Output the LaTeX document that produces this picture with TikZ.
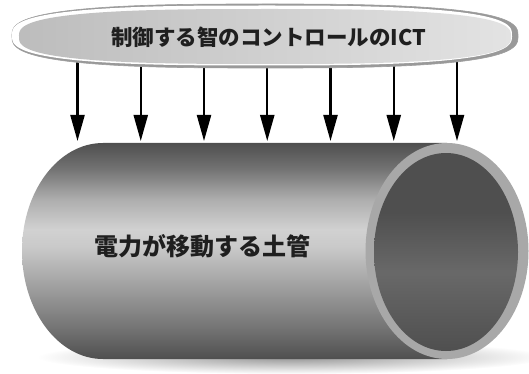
\documentclass[tikz,border=0pt]{standalone}
\usepackage{fontspec}
\newfontfamily\jpfont{Noto Sans CJK JP}
\usetikzlibrary{arrows.meta}

% grey tones of the pipe
\definecolor{pipeA}{gray}{0.31}
\definecolor{pipeB}{gray}{0.45}
\definecolor{pipeC}{gray}{0.68}
\definecolor{pipeD}{gray}{0.82}
\definecolor{pipeE}{gray}{0.79}
\definecolor{pipeF}{gray}{0.63}
\definecolor{rimcol}{gray}{0.66}
\definecolor{boreA}{gray}{0.31}
\definecolor{boreB}{gray}{0.41}
\definecolor{lensedge}{gray}{0.62}
\definecolor{lensrim}{gray}{0.60}
\definecolor{lensL}{gray}{0.74}
\definecolor{lensR}{gray}{0.89}
\definecolor{inkcol}{gray}{0.12}

% outer surface of the pipe: dark at top and bottom, light band just above the middle
\pgfdeclareverticalshading{pipebody}{100bp}{%
  color(0bp)=(pipeA); color(25bp)=(pipeA); color(32bp)=(pipeB);
  color(42bp)=(pipeF); color(51bp)=(pipeE); color(55bp)=(pipeD);
  color(62bp)=(pipeC); color(69bp)=(pipeB); color(75bp)=(pipeA);
  color(100bp)=(pipeA)}
% inside of the open end
\pgfdeclareverticalshading{pipebore}{100bp}{%
  color(0bp)=(boreA); color(25bp)=(boreA); color(45bp)=(boreB);
  color(60bp)=(boreA); color(75bp)=(boreA); color(100bp)=(boreA)}

\tikzset{
  downarrow/.style={line width=2.2pt, draw=black,
    -{Triangle[width=14pt,length=26pt]}},
  titletext/.style={font=\jpfont\bfseries\fontsize{21.5}{21.5}\selectfont, text=inkcol, inner sep=0pt},
  pipetext/.style={font=\jpfont\bfseries\fontsize{24}{24}\selectfont, text=inkcol, inner sep=0pt},
}

% rounded lens outline: centre (#1,#2), half axes #3 and #4
\newcommand{\lenspath}[4]{%
  plot[domain=0.5:360.5, samples=181]
  ({#1+#3*sign(cos(\x))*pow(abs(cos(\x)),0.7)},
   {#2+#4*sign(sin(\x))*pow(abs(sin(\x)),0.7)}) -- cycle}

\begin{document}
\begin{tikzpicture}[x=1pt, y=-1pt]
\useasboundingbox (0,0) rectangle (529,374);

% soft shadow under the pipe
\path[inner color=black!42, outer color=white] (292,357) ellipse (255 and 17);

% pipe body with its rounded far end
\path[shading=pipebody] (447,143) -- (103,143)
  arc[start angle=-90, end angle=-270, x radius=81, y radius=108]
  -- (447,359) -- cycle;
% open near end: rim and bore
\path[fill=rimcol] (447,251) ellipse (81.5 and 108);
\path[shading=pipebore] (446,252) ellipse (72 and 99);

\node[pipetext] (pipe) at (202.5,246.5) {電力が移動する土管};

% arrows from the control layer down onto the pipe
\foreach \i in {0,...,6} {
  \coordinate (s\i) at ({77.5+63.25*\i},55);
  \coordinate (e\i) at ({77.5+63.25*\i},141);
  \draw[downarrow] (s\i) -- (e\i);
}

% control layer lens
\path[fill=lensrim, draw=lensedge, line width=0.6pt] \lenspath{265}{36}{253}{32};
\path[fill=white] \lenspath{262}{35.5}{250}{30};
\path[left color=lensL, right color=lensR] \lenspath{265}{36.5}{246}{27.5};

\node[titletext] (ict) at (268.5,37.5) {制御する智のコントロールのICT};
\end{tikzpicture}
\end{document}
